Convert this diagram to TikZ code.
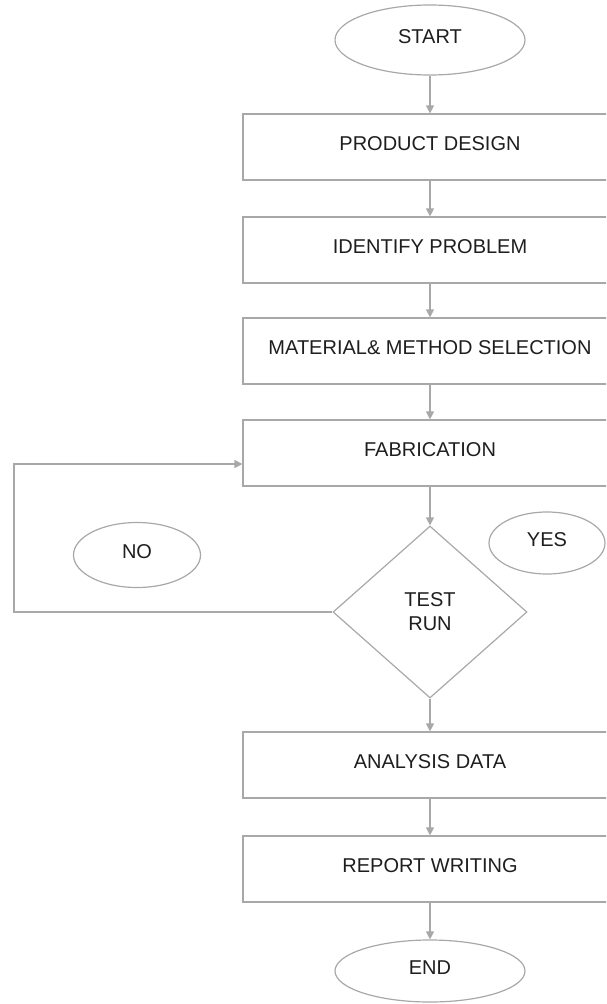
\documentclass[tikz,border=0pt]{standalone}
\usepackage{fontspec}
\setmainfont{Liberation Sans}
\usepackage{xcolor}
\usetikzlibrary{shapes.geometric, arrows.meta}
\definecolor{linegray}{RGB}{168,168,168}
\definecolor{inkgray}{RGB}{30,30,30}

\begin{document}
\begin{tikzpicture}[x=1pt, y=-1pt,
  txt/.style={font=\fontsize{20pt}{24pt}\selectfont, text=inkgray, inner sep=0pt},
  stepbox/.style={txt, shape=rectangle, draw=linegray, line width=1.2pt, minimum width=374pt, minimum height=66pt, text height=14pt, text depth=7pt},
  term/.style={txt, shape=ellipse, draw=linegray, line width=1.2pt, text height=14pt, text depth=7pt},
  arr/.style={draw=linegray, line width=1.2pt, -{Triangle[length=8pt, width=8pt]}}]
\path [use as bounding box, clip] (0,0) rectangle (606,1004);
\node at (430, 40) [term, minimum width=190pt, minimum height=70pt] (start) {START};
\node at (430, 147) [stepbox] (design) {PRODUCT DESIGN};
\node at (430, 250) [stepbox] (problem) {IDENTIFY PROBLEM};
\node at (430, 351) [stepbox] (material) {MATERIAL\& METHOD SELECTION};
\node at (430, 453) [stepbox] (fab) {FABRICATION};
\node at (430, 612) [txt, shape=diamond, draw=linegray, line width=1.2pt, align=center, minimum width=194pt, minimum height=172pt] (test) {TEST\\RUN};
\node at (137, 555) [term, minimum width=127pt, minimum height=65pt] (no) {NO};
\node at (547, 543) [term, minimum width=116pt, minimum height=62pt] (yes) {YES};
\node at (430, 765) [stepbox] (analysis) {ANALYSIS DATA};
\node at (430, 869) [stepbox] (report) {REPORT WRITING};
\node at (430, 971) [term, minimum width=190pt, minimum height=62pt] (end) {END};
\coordinate (loop) at (14, 464);
\draw [arr] (start) to (design);
\draw [arr] (design) to (problem);
\draw [arr] (problem) to (material);
\draw [arr] (material) to (fab);
\draw [arr] (fab) to (test);
\draw [arr] (test.west) -| (loop) -- (fab.west |- loop);
\draw [arr] (test) to (analysis);
\draw [arr] (analysis) to (report);
\draw [arr] (report) to (end);
\end{tikzpicture}
\end{document}
